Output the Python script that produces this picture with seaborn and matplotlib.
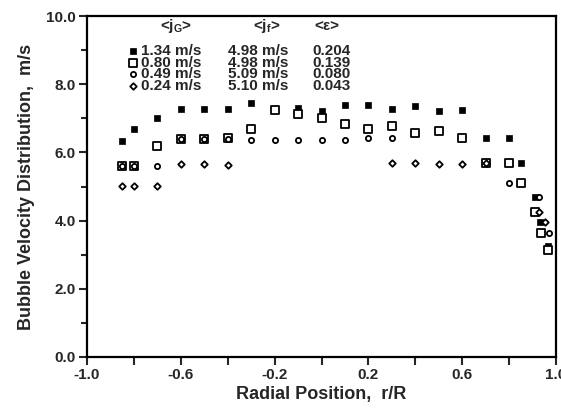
import matplotlib
matplotlib.use("Agg")
import matplotlib.pyplot as plt
import seaborn as sns
import pandas as pd

# ---- data ----
r_solid = [-0.85, -0.8, -0.7, -0.6, -0.5, -0.4, -0.3, -0.2, -0.1, 0.0, 0.1, 0.2, 0.3, 0.4, 0.5, 0.6,
           0.7, 0.8, 0.85, 0.91, 0.932, 0.966]
v_solid = [6.33, 6.68, 7.02, 7.27, 7.27, 7.27, 7.44, 7.24, 7.31, 7.21, 7.39, 7.39, 7.27, 7.37, 7.21, 7.24,
           6.41, 6.41, 5.68, 4.68, 3.97, 3.25]

r_square = [-0.85, -0.8, -0.7, -0.6, -0.5, -0.4, -0.3, -0.2, -0.1, 0.0, 0.1, 0.2, 0.3, 0.4, 0.5, 0.6,
            0.7, 0.8, 0.85, 0.91, 0.936, 0.966]
v_square = [5.60, 5.60, 6.20, 6.38, 6.38, 6.42, 6.68, 7.25, 7.12, 7.00, 6.82, 6.68, 6.78, 6.56, 6.64, 6.41,
            5.68, 5.68, 5.09, 4.26, 3.65, 3.15]

r_circle = [-0.85, -0.8, -0.7, -0.6, -0.5, -0.4, -0.3, -0.2, -0.1, 0.0, 0.1, 0.2, 0.3, 0.8, 0.927, 0.97]
v_circle = [5.60, 5.60, 5.60, 6.38, 6.38, 6.40, 6.36, 6.36, 6.36, 6.36, 6.36, 6.41, 6.41, 5.09, 4.68, 3.65]

r_diamond = [-0.85, -0.8, -0.7, -0.6, -0.5, -0.4, 0.3, 0.4, 0.5, 0.6, 0.7, 0.927, 0.953]
v_diamond = [5.02, 5.02, 5.02, 5.65, 5.65, 5.63, 5.68, 5.68, 5.66, 5.66, 5.68, 4.26, 3.97]

jG = ["1.34 m/s", "0.80 m/s", "0.49 m/s", "0.24 m/s"]
jf = ["4.98 m/s", "4.98 m/s", "5.09 m/s", "5.10 m/s"]
eps = ["0.204", "0.139", "0.080", "0.043"]

x_ticks = [-1.0, -0.6, -0.2, 0.2, 0.6, 1.0]
x_minor = [-0.8, -0.4, 0.0, 0.4, 0.8]
y_ticks = [0, 2, 4, 6, 8, 10]
y_minor = [1, 3, 5, 7, 9]

# ---- style ----
sns.set_style("ticks")
plt.rcParams["font.family"] = ["Liberation Sans", "DejaVu Sans"]
plt.rcParams["font.weight"] = "bold"
plt.rcParams["axes.labelweight"] = "bold"
plt.rcParams["mathtext.fontset"] = "custom"
plt.rcParams["mathtext.rm"] = "Liberation Sans:bold"
plt.rcParams["mathtext.it"] = "Liberation Sans:bold"

fig = plt.figure(figsize=(5.61, 4.09), dpi=100)
ax = fig.add_axes([87 / 561, 52 / 409, (556 - 87) / 561, (357 - 16) / 409])

styles = [
    (r_solid, v_solid, dict(marker="s", s=14, color="black", edgecolor="black", linewidth=0.5)),
    (r_square, v_square, dict(marker="s", s=26, facecolor="white", edgecolor="black", linewidth=1.3)),
    (r_circle, v_circle, dict(marker="o", s=14, facecolor="white", edgecolor="black", linewidth=1.3)),
    (r_diamond, v_diamond, dict(marker="D", s=11, facecolor="white", edgecolor="black", linewidth=1.3)),
]
for xs, ys, kw in styles:
    df = pd.DataFrame({"r": xs, "v": ys})
    sns.scatterplot(data=df, x="r", y="v", ax=ax, legend=False, zorder=3, **kw)

ax.set_xlim(-1.0, 1.0)
ax.set_ylim(0, 10)
ax.set_xticks(x_ticks)
ax.set_xticklabels([f"{t:.1f}" for t in x_ticks])
ax.set_xticks(x_minor, minor=True)
ax.set_yticks(y_ticks)
ax.set_yticklabels([f"{t:.1f}" for t in y_ticks])
ax.set_yticks(y_minor, minor=True)
ax.tick_params(axis="both", which="major", direction="out", length=6, width=1.5, labelsize=11, pad=2)
ax.tick_params(axis="x", which="minor", direction="out", length=6, width=1.5)
ax.tick_params(axis="y", which="minor", direction="out", length=4, width=1.5)
for sp in ax.spines.values():
    sp.set_visible(True)
    sp.set_linewidth(1.6)
    sp.set_color("black")

ax.set_xlabel("Radial Position,  r/R", fontsize=13, labelpad=3)
ax.set_ylabel("Bubble Velocity Distribution,  m/s", fontsize=13, labelpad=8)

# ---- in-plot legend table ----
fs = 11
ax.text(-0.618, 9.72, "<j$_G$>", ha="center", va="center", fontsize=fs)
ax.text(-0.234, 9.72, "<j$_f$>", ha="center", va="center", fontsize=fs)
ax.text(0.022, 9.72, "<ε>", ha="center", va="center", fontsize=fs)
row_y = [8.97, 8.63, 8.29, 7.95]
for i, (xs, ys, kw) in enumerate(styles):
    ax.scatter([-0.803], [row_y[i]], zorder=3, **kw)
    ax.text(-0.771, row_y[i], jG[i], ha="left", va="center", fontsize=fs)
    ax.text(-0.40, row_y[i], jf[i], ha="left", va="center", fontsize=fs)
    ax.text(-0.0375, row_y[i], eps[i], ha="left", va="center", fontsize=fs)

fig.savefig("out.png", dpi=100)
